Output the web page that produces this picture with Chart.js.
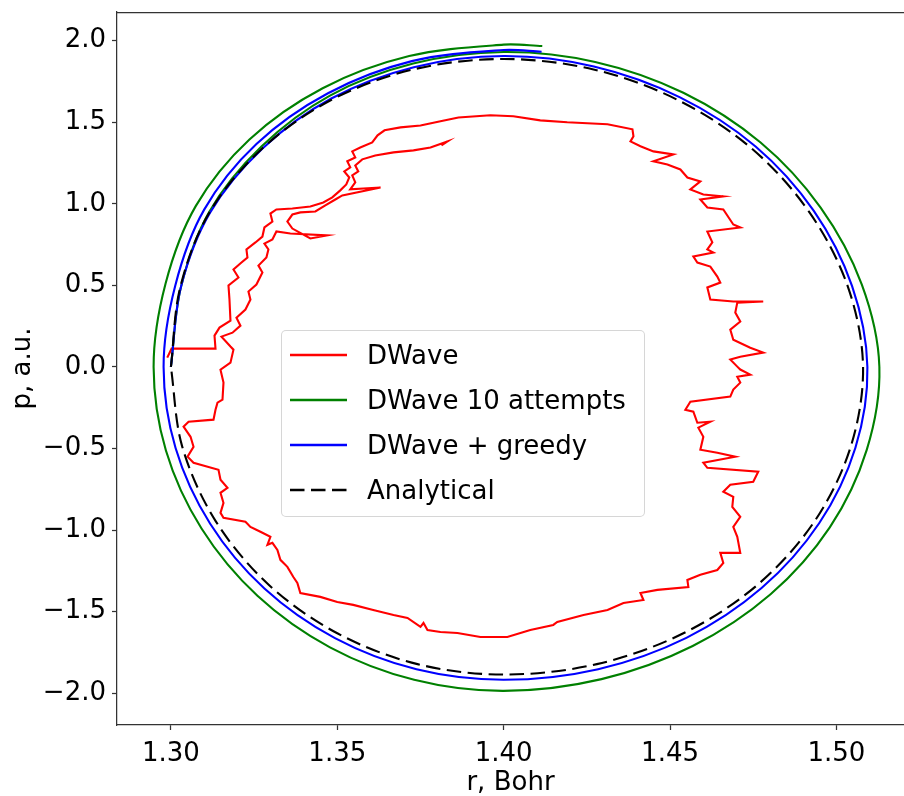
<!DOCTYPE html>
<html><head><meta charset="utf-8">
<script src="https://cdn.jsdelivr.net/npm/chart.js@4/dist/chart.umd.min.js"></script>
<style>
html,body{margin:0;padding:0;background:#fff;}
#wrap{position:relative;width:904px;height:796px;overflow:hidden;}
#legend{position:absolute;left:281px;top:330px;width:362px;height:185px;border:1px solid rgba(204,204,204,0.8);border-radius:5px;background:rgba(255,255,255,0.8);font-family:'DejaVu Sans';font-size:26px;color:#000;}
.row{position:absolute;left:0;height:40px;line-height:40px;white-space:nowrap;width:360px;}
.row svg{position:absolute;left:8px;top:17px;}
.lbl{position:absolute;left:85px;top:0;}
</style></head>
<body><div id="wrap"><canvas id="c" width="904" height="796"></canvas><div id="legend"></div></div>
<script>
// ---- data (r in Bohr, p in a.u.) ----
const seriesLabels = ['DWave', 'DWave 10 attempts', 'DWave + greedy', 'Analytical'];

const redR = [1.2989,1.3002,1.3134,1.3131,1.3146,1.3179,1.3176,1.3173,1.3203,1.3188,1.3212,1.3230,1.3227,1.3254,1.3275,1.3281,1.3305,1.3299,1.3317,1.3365,1.3419,1.3458,1.3485,1.3509,1.3527,1.3536,1.3521,1.3539,1.3530,1.3554,1.3545,1.3569,1.3605,1.3621,1.3642,1.3690,1.3750,1.3810,1.3864,
1.3960,1.4029,1.4110,1.4191,1.4312,1.4387,1.4390,1.4381,1.4411,1.4450,1.4510,1.4450,1.4492,1.4531,1.4552,1.4591,1.4561,1.4600,1.4660,1.4591,1.4612,1.4660,1.4690,1.4711,1.4612,1.4627,1.4612,1.4630,1.4570,1.4582,1.4621,1.4642,1.4651,1.4612,1.4621,1.4690,1.4780,1.4702,1.4696,1.4711,1.4681,1.4690,1.4741,1.4780,1.4711,1.4681,1.4702,1.4711,1.4741,1.4702,1.4711,1.4690,1.4681,1.4561,1.4546,1.4570,1.4582,1.4621,1.4585,1.4600,1.4591,1.4642,1.4696,1.4600,1.4612,1.4765,1.4750,1.4681,1.4660,1.4690,1.4687,1.4711,1.4690,1.4702,1.4711,1.4651,1.4660,1.4642,1.4591,1.4552,1.4555,1.4462,1.4411,1.4420,1.4360,1.4312,1.4240,1.4161,1.4149,1.4080,1.4011,1.3930,1.3861,
1.3810,1.3771,1.3759,1.3750,1.3711,1.3669,1.3608,1.3548,1.3500,1.3449,1.3389,1.3380,1.3368,1.3350,1.3329,1.3320,1.3305,1.3290,1.3299,1.3269,1.3239,1.3224,1.3158,1.3149,1.3158,1.3149,1.3170,1.3149,1.3143,1.3068,1.3050,1.3068,1.3059,1.3038,1.3053,1.3128,1.3134,1.3140,1.3155,1.3158,1.3149,1.3179,1.3188,1.3179,1.3152,
1.3185,1.3209,1.3197,1.3224,1.3239,1.3233,1.3257,1.3275,1.3263,1.3287,1.3293,1.3281,1.3305,1.3317,1.3359,1.3470,1.3419,1.3365,1.3350,1.3365,1.3389,1.3434,1.3464,1.3494,1.3515,1.3630,1.3539,1.3554,1.3545,1.3563,1.3554,1.3575,1.3614,1.3669,1.3729,1.3780,1.3831,1.3813];
const redP = [0.057,0.112,0.112,0.192,0.241,0.284,0.413,0.499,0.548,0.597,0.640,0.671,0.720,0.763,0.799,0.855,0.891,0.940,0.965,0.971,0.983,1.008,1.039,1.082,1.118,1.161,1.198,1.223,1.260,1.284,1.321,1.345,1.376,1.419,1.450,1.468,1.480,1.505,1.529,
1.542,1.536,1.511,1.499,1.487,1.456,1.413,1.382,1.352,1.321,1.302,1.260,1.241,1.210,1.161,1.137,1.088,1.057,1.045,1.026,0.977,0.965,0.873,0.855,0.830,0.763,0.720,0.701,0.677,0.640,0.615,0.554,0.517,0.487,0.413,0.401,0.401,0.394,0.333,0.278,0.229,0.167,0.118,0.088,0.063,0.045,0.002,-0.016,-0.047,-0.060,-0.096,-0.139,-0.182,-0.213,-0.262,-0.274,-0.342,-0.336,-0.372,-0.428,-0.507,-0.526,-0.550,-0.587,-0.618,-0.642,-0.704,-0.722,-0.765,-0.796,-0.857,-0.918,-0.980,-1.041,-1.139,-1.139,-1.201,-1.244,-1.274,-1.305,-1.348,-1.366,-1.385,-1.428,-1.446,-1.489,-1.520,-1.563,-1.581,-1.612,-1.655,-1.655,-1.630,
-1.624,-1.612,-1.569,-1.593,-1.538,-1.520,-1.489,-1.458,-1.440,-1.409,-1.385,-1.323,-1.287,-1.225,-1.182,-1.121,-1.078,-1.090,-1.041,-1.010,-0.980,-0.949,-0.925,-0.894,-0.833,-0.771,-0.741,-0.691,-0.630,-0.587,-0.550,-0.489,-0.428,-0.366,-0.336,-0.323,-0.262,-0.219,-0.201,-0.096,-0.017,0.026,0.106,0.125,0.186,
0.210,0.253,0.302,0.352,0.413,0.462,0.505,0.579,0.621,0.671,0.720,0.756,0.781,0.830,0.818,0.806,0.787,0.848,0.891,0.934,0.947,0.953,0.990,1.026,1.051,1.100,1.088,1.131,1.174,1.198,1.235,1.272,1.296,1.315,1.327,1.345,1.382,1.358];

const greenR = [1.3000,1.3030,1.3115,1.3272,1.3478,1.3728,1.4000,1.4275,1.4540,1.4772,1.4953,1.5076,1.5129,1.5091,1.4980,1.4802,1.4568,1.4294,1.4000,1.3731,1.3478,1.3260,1.3092,1.2985,1.2948,1.2984,1.3075,1.3236,1.3456,1.3716,1.4000,1.4116];
const greenP = [0,0.489,0.950,1.351,1.663,1.859,1.930,1.869,1.680,1.375,0.975,0.506,0,-0.508,-0.983,-1.393,-1.710,-1.913,-1.985,-1.917,-1.718,-1.402,-0.990,-0.512,0,0.511,0.987,1.394,1.708,1.905,1.975,1.967];

const blueR = [1.3000,1.3030,1.3118,1.3276,1.3482,1.3730,1.4000,1.4271,1.4530,1.4757,1.4932,1.5047,1.5093,1.5057,1.4948,1.4775,1.4549,1.4284,1.4000,1.3738,1.3493,1.3281,1.3118,1.3014,1.2978,1.3013,1.3100,1.3257,1.3472,1.3724,1.4000,1.4114];
const blueP = [0,0.489,0.946,1.340,1.645,1.837,1.905,1.841,1.652,1.351,0.956,0.495,0,-0.495,-0.958,-1.355,-1.660,-1.852,-1.917,-1.853,-1.662,-1.358,-0.961,-0.497,0,0.498,0.964,1.366,1.677,1.874,1.942,1.931];

const anaR = [1.3000,1.3028,1.3115,1.3272,1.3480,1.3728,1.4000,1.4270,1.4525,1.4748,1.4920,1.5035,1.5080,1.5043,1.4935,1.4764,1.4540,1.4280,1.4000,1.3741,1.3500,1.3293,1.3134,1.3034,1.3000];
const anaP = [0,0.488,0.944,1.334,1.634,1.823,1.887,1.823,1.634,1.334,0.944,0.488,0,-0.488,-0.943,-1.333,-1.632,-1.821,-1.885,-1.821,-1.632,-1.333,-0.943,-0.488,0];

const xTickValues = [1.30, 1.35, 1.40, 1.45, 1.50];
const yTickValues = [-2.0, -1.5, -1.0, -0.5, 0.0, 0.5, 1.0, 1.5, 2.0];
// -------------------------------------

const colors = ['#ff0000', '#008000', '#0000ff', '#000000'];
const dashes = [[], [], [], [14.5, 6.5]];
const zip = (R, P) => R.map((r, i) => ({x: r, y: P[i]}));
const seriesData = [zip(redR, redP), zip(greenR, greenP), zip(blueR, blueP), zip(anaR, anaP)];
const tensions = [0, 0.33, 0.33, 0.33];
const orders = [4, 3, 2, 1];

const FONT = {family: "'DejaVu Sans'", size: 26};
const fmtY = v => Math.abs(v) < 1e-9 ? '0.0' : (v < 0 ? '\u2212' : '') + Math.abs(v).toFixed(1);
const noPad = s => { s.paddingTop = 0; s.paddingBottom = 0; s.paddingLeft = 0; s.paddingRight = 0; };

const frameTop = {
  id: 'frameTop',
  afterDraw(c) {
    const {ctx, chartArea: a} = c;
    ctx.save();
    ctx.strokeStyle = '#333';
    ctx.lineWidth = 1.25;
    ctx.beginPath();
    ctx.moveTo(a.left, a.top + 0.5);
    ctx.lineTo(a.right, a.top + 0.5);
    ctx.stroke();
    ctx.restore();
  }
};

new Chart(document.getElementById('c'), {
  type: 'scatter',
  data: {
    datasets: seriesLabels.map((lab, i) => ({
      label: lab,
      data: seriesData[i],
      showLine: true,
      borderColor: colors[i],
      backgroundColor: colors[i],
      borderWidth: 2.1,
      borderDash: dashes[i],
      pointRadius: 0,
      tension: tensions[i],
      fill: false,
      order: orders[i]
    }))
  },
  options: {
    responsive: false,
    animation: false,
    devicePixelRatio: 1,
    layout: {padding: {top: 12, left: 0, right: 0, bottom: 0}},
    plugins: {legend: {display: false}, tooltip: {enabled: false}},
    scales: {
      x: {
        type: 'linear', min: 1.2838, max: 1.5203,
        afterFit(s) { s.height = 71; noPad(s); },
        afterBuildTicks(s) { s.ticks = xTickValues.map(v => ({value: v})); },
        ticks: {font: FONT, color: '#000', padding: 9, maxRotation: 0, autoSkip: false,
                callback: v => Number(v).toFixed(2)},
        grid: {display: true, drawOnChartArea: false, drawTicks: true, tickLength: 5, tickColor: '#333', tickWidth: 1.25},
        border: {display: true, color: '#333', width: 1.25},
        title: {display: true, text: 'r, Bohr', font: FONT, color: '#000', padding: {top: 0, bottom: -3}}
      },
      y: {
        type: 'linear', min: -2.194, max: 2.175,
        afterFit(s) { s.width = 117; noPad(s); },
        afterBuildTicks(s) { s.ticks = yTickValues.map(v => ({value: v})); },
        ticks: {font: FONT, color: '#000', padding: 6, autoSkip: false, callback: v => fmtY(v)},
        grid: {display: true, drawOnChartArea: false, drawTicks: true, tickLength: 5, tickColor: '#333', tickWidth: 1.25},
        border: {display: true, color: '#333', width: 1.25},
        title: {display: true, text: 'p, a.u.', font: FONT, color: '#000', padding: {top: 8, bottom: 0}}
      }
    }
  },
  plugins: [frameTop]
});

// HTML legend built from the series definitions
const leg = document.getElementById('legend');
seriesLabels.forEach((lab, i) => {
  const row = document.createElement('div');
  row.className = 'row';
  row.style.top = (4 + 45 * i) + 'px';
  const dash = dashes[i].length ? ` stroke-dasharray="${dashes[i].join(' ')}"` : '';
  row.innerHTML = `<svg width="58" height="6"><line x1="0" y1="3" x2="57" y2="3" stroke="${colors[i]}" stroke-width="2.3"${dash}/></svg><span class="lbl">${lab}</span>`;
  leg.appendChild(row);
});
</script></body></html>
